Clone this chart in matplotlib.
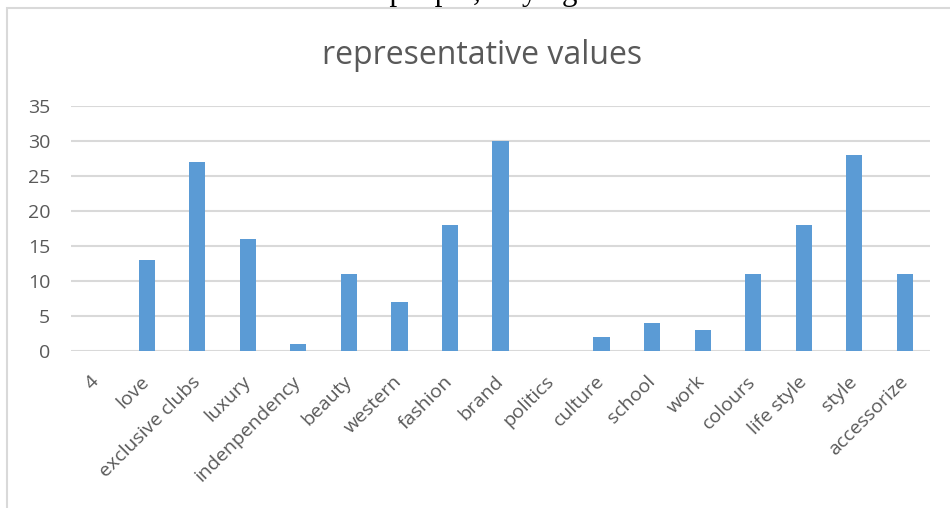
import matplotlib
matplotlib.use("Agg")
import matplotlib.pyplot as plt
from matplotlib.patches import Rectangle

categories = ["4", "love", "exclusive clubs", "luxury", "indenpendency", "beauty",
              "western", "fashion", "brand", "politics", "culture", "school", "work",
              "colours", "life style", "style", "accessorize"]
values = [0, 13, 27, 16, 1, 11, 7, 18, 30, 0, 2, 4, 3, 11, 18, 28, 11]
yticks = [0, 5, 10, 15, 20, 25, 30, 35]
title = "representative values"
caption = "characteristics of interviewed people, relying on brand values."

W, H = 950, 508
fig = plt.figure(figsize=(W / 100, H / 100), dpi=100)
fig.patch.set_facecolor("white")

# chart frame
frame = Rectangle((7 / W, -0.1), 1.2, (H - 8) / H + 0.1, transform=fig.transFigure,
                  fill=False, edgecolor="#d9d9d9", linewidth=1.5)
fig.add_artist(frame)

# cut-off caption text above the chart (only descenders visible)
fig.text(13 / W, 1.0, caption, ha="left", va="baseline",
         family="Liberation Serif", fontsize=22.5, color="black")

ax = fig.add_axes([71 / W, 1 - 351 / H, (930 - 71) / W, (351 - 106) / H])
x = list(range(len(categories)))
ax.bar(x, values, width=0.32, color="#5b9bd5", zorder=3)
ax.set_xlim(-0.5, len(categories) - 0.5)
ax.set_ylim(0, 35)
ax.set_yticks(yticks)
ax.set_yticklabels([str(t) for t in yticks])
ax.grid(axis="y", color="#d9d9d9", linewidth=1.5, zorder=0)
for s in ax.spines.values():
    s.set_visible(False)
ax.tick_params(axis="both", length=0, colors="#595959", labelsize=14)
ax.tick_params(axis="y", pad=15)
ax.set_xticks(x)
ax.set_xticklabels(categories, rotation=45, ha="right", va="center",
                   rotation_mode="anchor")
ax.tick_params(axis="x", pad=20)
for lab in ax.get_xticklabels() + ax.get_yticklabels():
    lab.set_family("Open Sans")

fig.text(482 / W, 1 - 56 / H, title, ha="center", va="center",
         family="Open Sans", fontsize=23, color="#595959")

fig.savefig("out.png", dpi=100, facecolor="white")
